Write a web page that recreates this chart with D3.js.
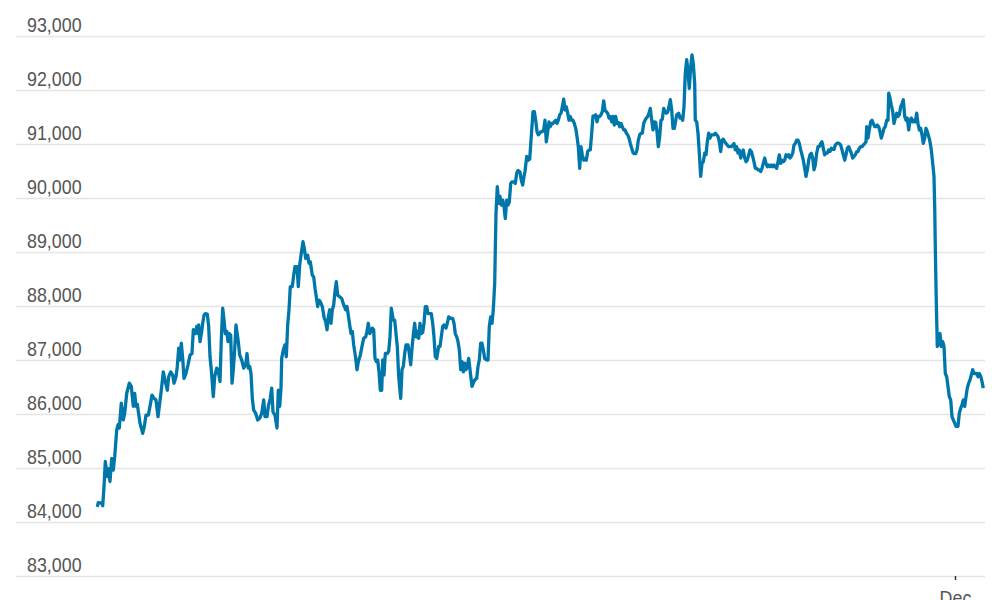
<!DOCTYPE html>
<html>
<head>
<meta charset="utf-8">
<style>
  body { margin: 0; background: #fff; }
  svg { display: block; }
  .axis text {
    font-family: "Liberation Sans Narrow", "Liberation Sans", sans-serif;
    font-size: 21px;
    fill: #555;
  }
  .grid line { stroke: #e4e4e4; stroke-width: 1.6px; }
  .price { fill: none; stroke: #0077aa; stroke-width: 3.3px; stroke-linejoin: round; }
</style>
<script src="https://d3js.org/d3.v7.min.js"></script>
</head>
<body>
<svg width="1000" height="600"></svg>
<script>
// hours after 23 Nov 20:24 UTC
var hours = [0.06,0.26,0.94,1.14,1.4,1.66,2.06,2.26,2.6,2.94,3.26,3.54,3.94,4.2,4.46,4.86,5.26,5.54,5.94,6.46,
  6.86,7.26,7.54,7.8,8.06,8.6,9.14,9.46,9.8,10.26,10.6,11.0,11.4,11.8,12.2,12.46,12.86,13.26,13.66,14.06,
  14.34,14.74,15.14,15.4,15.8,16.06,16.34,16.6,16.86,17.14,17.4,17.8,18.2,18.6,19.0,19.26,19.66,19.94,20.2,20.34,
  20.6,20.94,21.14,21.4,21.66,22.06,22.34,22.6,22.86,23.26,23.54,23.94,24.2,24.6,24.86,25.14,25.4,25.66,25.94,26.2,
  26.46,26.74,27.0,27.26,27.54,27.8,28.26,28.54,28.94,29.34,29.74,30.0,30.26,30.54,30.8,31.06,31.34,31.74,32.14,32.54,
  32.94,33.34,33.6,34.0,34.26,34.66,34.94,35.2,35.6,36.0,36.26,36.54,36.8,36.94,37.26,37.6,37.86,38.14,38.4,38.66,
  39.06,39.34,39.6,40.0,40.26,40.54,40.8,41.2,41.46,41.74,42.14,42.4,42.66,43.06,43.34,43.6,43.86,44.14,44.4,44.66,
  45.06,45.46,45.74,46.0,46.26,46.54,46.8,47.06,47.34,47.6,47.86,48.14,48.54,48.94,49.34,49.74,50.0,50.26,50.54,50.8,
  51.06,51.34,51.74,52.0,52.26,52.66,53.06,53.34,53.74,54.0,54.26,54.54,54.8,55.06,55.34,55.6,55.86,56.14,56.4,56.66,
  56.94,57.14,57.4,57.66,58.06,58.34,58.6,58.86,59.26,59.54,59.8,60.06,60.34,60.74,61.0,61.26,61.54,61.8,62.2,62.46,
  62.74,63.0,63.26,63.54,63.8,64.06,64.34,64.6,64.86,65.14,65.4,65.66,65.94,66.2,66.6,66.86,67.14,67.4,67.66,67.94,
  68.34,68.6,68.86,69.14,69.4,69.8,70.06,70.34,70.74,71.14,71.4,71.66,71.94,72.2,72.46,72.74,73.0,73.26,73.54,73.8,
  74.06,74.34,74.6,75.0,75.26,75.54,75.94,76.2,76.46,76.74,77.0,77.26,77.54,77.94,78.2,78.46,78.74,79.0,79.26,79.54,
  79.66,79.8,80.06,80.34,80.6,80.86,81.14,81.4,81.66,81.94,82.2,82.46,82.74,83.0,83.4,83.66,83.94,84.2,84.6,84.86,
  85.14,85.4,85.6,85.94,86.26,86.54,86.8,87.2,87.46,87.74,88.0,88.26,88.54,88.8,89.06,89.34,89.6,89.86,90.14,90.4,
  90.66,90.94,91.2,91.46,91.74,92.0,92.26,92.54,92.8,93.06,93.34,93.6,93.86,94.14,94.4,94.66,94.94,95.2,95.46,95.74,
  96.0,96.26,96.54,96.8,97.06,97.34,97.6,97.86,98.14,98.4,98.66,98.94,99.2,99.46,99.74,100.0,100.26,100.54,100.8,101.06,
  101.34,101.6,101.86,102.14,102.4,102.66,102.94,103.2,103.46,103.74,104.0,104.26,104.54,104.8,105.06,105.34,105.6,105.86,106.14,106.4,
  106.66,106.94,107.2,107.46,107.74,108.0,108.26,108.54,108.8,109.06,109.34,109.6,109.86,110.14,110.4,110.66,110.94,111.2,111.46,111.74,
  112.0,112.26,112.54,112.8,113.06,113.34,113.6,113.86,114.14,114.4,114.66,114.94,115.2,115.46,115.94,116.34,116.6,116.86,117.14,117.4,
  117.66,117.94,118.2,118.46,118.74,119.0,119.26,119.54,119.66,119.94,120.2,120.46,120.74,121.0,121.26,121.54,121.8,122.06,122.34,122.6,
  122.86,123.14,123.4,123.66,123.94,124.2,124.46,124.74,125.0,125.26,125.54,125.8,126.06,126.34,126.6,126.86,127.14,127.4,127.66,127.94,
  128.2,128.46,128.74,129.0,129.26,129.54,129.8,130.06,130.34,130.6,130.86,131.14,131.4,131.66,131.94,132.2,132.46,132.74,133.0,133.26,
  133.54,133.8,134.06,134.34,134.6,134.86,135.14,135.4,135.66,135.94,136.2,136.46,136.74,137.0,137.26,137.54,137.8,138.06,138.34,138.6,
  138.86,139.14,139.4,139.66,139.94,140.2,140.46,140.74,141.0,141.26,141.54,141.8,142.06,142.34,142.6,142.86,143.14,143.4,143.66,143.94,
  144.2,144.46,144.74,145.0,145.26,145.54,145.8,146.06,146.34,146.6,146.86,147.14,147.4,147.66,147.94,148.2,148.46,148.74,149.0,149.26,
  149.54,149.8,150.06,150.34,150.6,150.86,151.14,151.4,151.66,151.94,152.2,152.46,152.74,153.0,153.26,153.54,153.8,153.94,154.2,154.46,
  154.74,155.0,155.26,155.54,155.8,156.06,156.34,156.6,156.86,157.14,157.4,157.66,157.94,158.2,158.34,158.6,158.86,159.14,159.4,159.66,
  159.94,160.2,160.46,160.74,161.0,161.26,161.54,161.8,162.06,162.34,162.6,162.86,163.14,163.4,163.66,163.94,164.2,164.46,164.74,165.0,
  165.26,165.54,165.8,166.06,166.34,166.6,166.86,167.14,167.4,167.54,167.66,167.8,167.94,168.06,168.26,168.6,168.86,169.14,169.4,169.66,
  169.94,170.2,170.46,170.74,171.0,171.26,171.54,171.8,172.2,172.46,172.74,173.0,173.26,173.54,173.8,174.06,174.34,174.6,174.86,175.14,
  175.4,175.66,175.94,176.2,176.46,176.74,177.0,177.26];

var prices = [84280,84360,84350,84300,84650,85120,84840,84990,84750,85180,84960,85210,85700,85800,85740,86200,85890,86010,86380,86570,
  86510,86140,86380,86140,86180,85830,85640,85770,85980,85980,86140,86350,86290,86260,85950,86140,86440,86780,86600,86440,
  86690,86780,86720,86570,86690,86880,87220,87000,87310,87030,86660,86750,86910,87090,87120,87560,87490,87620,87490,87650,
  87340,87530,87680,87830,87860,87850,87620,87060,86820,86320,86690,86850,86820,86600,87370,87960,87740,87490,87530,87340,
  87490,87460,86570,86820,87190,87650,87340,87090,87000,86850,86910,87120,86850,86880,86750,86290,86070,86010,85890,85920,
  86010,86260,85950,85950,86140,86290,86480,86040,85980,85740,86440,86140,86480,87030,87190,87280,87060,87650,87930,88360,
  88360,88570,88730,88730,88360,88760,88940,89190,89070,88880,88940,88790,88820,88570,88540,88330,88170,87990,88110,88080,
  87990,87770,87710,87560,87800,87930,87680,87930,88020,88270,88450,88200,88170,88140,88020,87930,87990,87830,87650,87490,
  87530,87280,87030,86820,86970,87090,87280,87400,87430,87530,87680,87490,87530,87590,87560,87030,86970,87000,86780,86440,
  86440,87000,86720,87120,87120,87160,87430,87960,87740,87740,87490,87250,86690,86290,86820,86880,87120,87280,87280,87120,
  86910,87220,87460,87680,87430,87530,87400,87680,87490,87510,87680,87990,87990,87860,87860,87860,87680,87430,87060,87030,
  87250,87250,87430,87620,87650,87590,87680,87800,87770,87770,87680,87490,87430,87340,87190,86820,86970,86780,86940,86820,
  86880,87030,86820,86510,86570,86630,86660,86880,87000,87310,87310,87190,87030,87000,87000,87620,87800,87680,87930,88420,
  89040,89720,90210,89900,90030,89870,89960,89840,89620,89960,89870,89930,90270,90300,90300,90270,90460,90510,90480,90330,
  90240,90400,90490,90770,90700,90720,91070,91600,91600,91440,91230,91170,91200,91230,91230,91260,91440,91040,91230,91410,
  91320,91380,91380,91410,91440,91380,91440,91540,91570,91690,91830,91630,91690,91570,91440,91510,91440,91440,91380,91290,
  91140,90950,90550,90950,90800,90700,90720,90700,90860,90890,90890,91200,91520,91510,91540,91410,91510,91510,91540,91600,
  91800,91620,91600,91570,91480,91510,91410,91510,91350,91510,91380,91400,91320,91380,91320,91260,91260,91200,91170,91110,
  91010,90920,90840,90820,90820,90890,91070,91170,91200,91200,91380,91440,91480,91510,91570,91660,91440,91260,91410,91400,
  91230,90950,91140,91440,91460,91660,91600,91570,91590,91690,91820,91630,91290,91290,91540,91570,91480,91500,91440,91690,
  92310,92560,92340,92030,92430,92650,92490,92120,91440,91410,91200,90830,90400,90640,90670,90830,90800,91040,91200,91110,
  91170,91170,91170,91200,91170,91140,91040,90860,91070,91090,91040,91010,90980,90950,90950,90950,90980,91010,90890,90950,
  90830,90890,90740,90830,90890,90740,90670,90700,90800,90890,90860,90770,90670,90550,90550,90520,90520,90490,90550,90640,
  90740,90640,90580,90610,90580,90610,90580,90610,90580,90550,90670,90800,90640,90700,90670,90700,90800,90770,90800,90740,
  90770,90830,90980,91010,91070,91070,91010,90890,90800,90700,90550,90400,90520,90700,90800,90830,90740,90520,90610,90830,
  90950,90950,91010,91040,90920,90800,90830,90830,90890,90860,90920,90900,90900,90980,91010,91020,91010,90980,90890,90800,
  90700,90800,90920,90950,90890,90830,90740,90770,90800,90860,90860,90920,90950,90950,90980,91010,91040,91320,91110,91260,
  91410,91440,91380,91320,91320,91350,91320,91230,91110,91200,91290,91320,91440,91440,91940,91850,91720,91600,91380,91480,
  91570,91510,91540,91690,91750,91820,91510,91440,91480,91260,91440,91480,91410,91440,91410,91570,91380,91260,91290,91170,
  91010,91110,91290,91230,91140,91040,90890,90640,90400,89840,89100,88360,87740,87250,87310,87490,87250,87340,87250,86750,
  86690,86510,86320,86260,85950,85890,85830,85770,85770,86010,86110,86170,86260,86140,86320,86480,86570,86630,86720,86820,
  86750,86750,86750,86690,86750,86700,86600,86480];

var yTicks = [83000, 84000, 85000, 86000, 87000, 88000, 89000, 90000, 91000, 92000, 93000];
var start = Date.UTC(2025, 10, 23, 20, 24);

var data = hours.map(function(h, i) {
  return { date: new Date(start + h * 3600e3), price: prices[i] };
});

var svg = d3.select("svg");

var x = d3.scaleUtc()
    .domain([new Date(start), new Date(start + 177.2 * 3600e3)])
    .range([97, 983]);

var y = d3.scaleLinear()
    .domain([83000, 93000])
    .range([576, 36]);

// squeeze labels a bit, the original face is a narrow one
function narrow(sel) {
  sel.each(function() {
    var w = this.getComputedTextLength();
    d3.select(this).attr("textLength", w * 0.85).attr("lengthAdjust", "spacingAndGlyphs");
  });
}

// gridlines + labels
var gy = svg.append("g")
    .attr("class", "axis grid")
    .attr("transform", "translate(16,0)")
    .call(d3.axisRight(y).tickValues(yTicks).tickSize(969).tickFormat(d3.format(",")));
gy.select(".domain").remove();
gy.selectAll("text").attr("x", 11).attr("dy", -4.5).call(narrow);

// bottom axis, only the month tick
var gx = svg.append("g")
    .attr("class", "axis")
    .attr("transform", "translate(0,576)")
    .call(d3.axisBottom(x).ticks(d3.utcMonth.every(1)).tickFormat(d3.utcFormat("%b")).tickSize(4));
gx.select(".domain").remove();
gx.selectAll("line").attr("stroke", "#333").attr("stroke-width", 1.5);
gx.selectAll("text").attr("y", 14).call(narrow);

var line = d3.line()
    .x(function(d) { return x(d.date); })
    .y(function(d) { return y(d.price); });

svg.append("path")
    .datum(data)
    .attr("class", "price")
    .attr("d", line);
</script>
</body>
</html>
